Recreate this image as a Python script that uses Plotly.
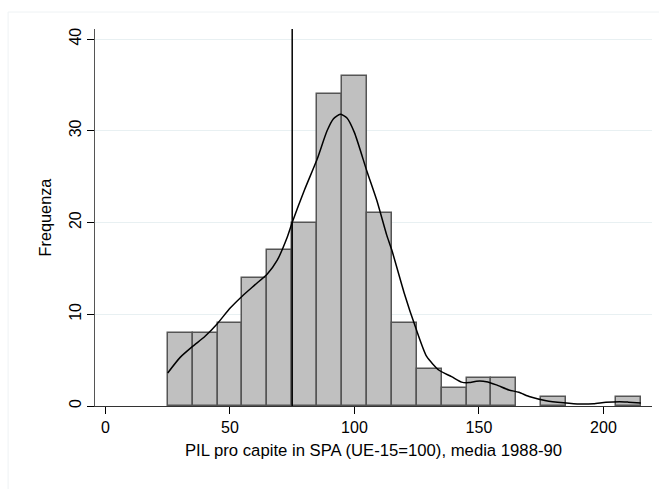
import plotly.graph_objects as go

# Histogram bins (left edges, width 10) and frequencies
bin_left = [25, 35, 45, 55, 65, 75, 85, 95, 105, 115, 125, 135, 145, 155, 165, 175, 185, 195, 205]
counts = [8, 8, 9, 14, 17, 20, 34, 36, 21, 9, 4, 2, 3, 3, 0, 1, 0, 0, 1]
bin_width = 10

# Kernel density curve (scaled to frequency)
kde_x = [25, 30, 35, 40, 45, 50, 55, 60, 65, 69, 73, 75, 80, 85, 89, 91.5, 94.3, 97, 100, 105,
         109, 113, 115, 120, 124.5, 129, 134, 139, 143, 146, 149, 153, 157, 162, 166, 170.5,
         177, 184, 190.5, 196, 201, 206.5, 210, 215]
kde_y = [3.6, 5.3, 6.5, 7.6, 9.0, 10.65, 12.0, 13.2, 14.4, 15.9, 18.4, 20.0, 23.6, 26.9, 30.0,
         31.3, 31.8, 31.4, 29.8, 25.6, 22.4, 18.6, 17.0, 12.3, 8.6, 5.4, 3.9, 3.2, 2.6, 2.55, 2.7,
         2.65, 2.3, 1.75, 1.5, 1.0, 0.58, 0.36, 0.22, 0.25, 0.4, 0.46, 0.42, 0.34]

mean_value = 75

x_ticks = [0, 50, 100, 150, 200]
y_ticks = [0, 10, 20, 30, 40]

FONT = "Liberation Sans, Arial, sans-serif"

fig = go.Figure()
fig.add_trace(go.Bar(
    x=[b + bin_width / 2 for b in bin_left],
    y=[c if c > 0 else None for c in counts],
    width=bin_width,
    marker=dict(color="#c0c0c0", line=dict(color="#555555", width=1.5)),
    showlegend=False,
    hoverinfo="skip",
))
fig.add_trace(go.Scatter(
    x=kde_x, y=kde_y, mode="lines",
    line=dict(color="black", width=1.5, shape="spline", smoothing=0.6),
    showlegend=False,
))
fig.add_vline(x=mean_value, line=dict(color="black", width=1.5))

# faint outer frame (Stata graph region)
fig.add_shape(type="rect", xref="paper", yref="paper",
              x0=-0.156, x1=1.2, y0=-0.4, y1=1.045,
              line=dict(color="#eef2f4", width=1), layer="below")

fig.update_layout(
    width=659, height=489,
    margin=dict(l=95, r=7, t=29, b=83),
    paper_bgcolor="white", plot_bgcolor="white",
    font=dict(family=FONT, size=16, color="black"),
    bargap=0,
    xaxis=dict(
        range=[-4.2, 219.5], tickvals=x_ticks, ticks="outside", ticklen=7,
        tickcolor="black", showline=True, linecolor="#333333", linewidth=1.2,
        showgrid=False, zeroline=False,
        title=dict(text="PIL pro capite in SPA (UE-15=100), media 1988-90",
                   font=dict(size=16.7), standoff=9),
        tickfont=dict(size=16),
    ),
    yaxis=dict(
        range=[0, 41.1], tickvals=y_ticks, ticks="outside", ticklen=7,
        tickcolor="black", showline=True, linecolor="#555555", linewidth=1.2,
        showgrid=True, gridcolor="#e8f0f2", gridwidth=1, zeroline=False,
        tickangle=-90, tickfont=dict(size=16),
        title=dict(text="Frequenza", font=dict(size=16.3), standoff=10),
    ),
)

fig.write_html("out.html")
